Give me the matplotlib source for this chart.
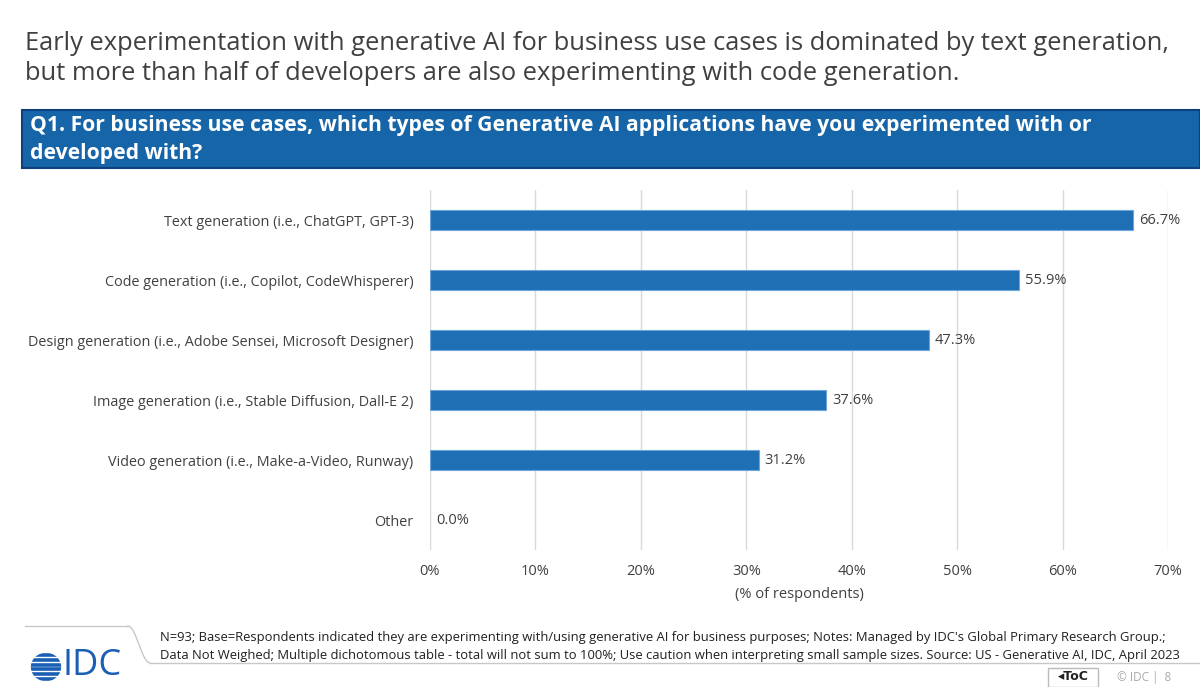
import numpy as np
import matplotlib.pyplot as plt
from matplotlib.patches import Rectangle, Circle

plt.rcParams['font.family'] = ['Open Sans', 'DejaVu Sans']

# Datos
categories = [
    "Text generation (i.e., ChatGPT, GPT-3)",
    "Code generation (i.e., Copilot, CodeWhisperer)",
    "Design generation (i.e., Adobe Sensei, Microsoft Designer)",
    "Image generation (i.e., Stable Diffusion, Dall-E 2)",
    "Video generation (i.e., Make-a-Video, Runway)",
    "Other",
]
values = [66.7, 55.9, 47.3, 37.6, 31.2, 0.0]
xticks = [0, 10, 20, 30, 40, 50, 60, 70]

txt = '#404040'
blue = '#1f6fb5'

fig = plt.figure(figsize=(12, 6.87), dpi=100)

# titulo
fig.text(25 / 1200, 1 - 43 / 687,
         "Early experimentation with generative AI for business use cases is dominated by text generation,",
         fontsize=18.4, color=txt, va='center', ha='left')
fig.text(25 / 1200, 1 - 74 / 687,
         "but more than half of developers are also experimenting with code generation.",
         fontsize=18.4, color=txt, va='center', ha='left')

# banda azul con la pregunta
fig.patches.append(Rectangle((22 / 1200, 1 - 168 / 687), 1 - 22 / 1200, 58 / 687,
                             transform=fig.transFigure, facecolor='#1565a8',
                             edgecolor='#0d3f7a', lw=1.5))
fig.text(30 / 1200, 1 - 126 / 687,
         "Q1. For business use cases, which types of Generative AI applications have you experimented with or",
         fontsize=15.2, color='white', weight='bold', va='center', ha='left')
fig.text(30 / 1200, 1 - 153 / 687, "developed with?",
         fontsize=15.2, color='white', weight='bold', va='center', ha='left')

ax = fig.add_axes([430 / 1200, 1 - 550 / 687, 738 / 1200, 360 / 687])
y = np.arange(len(categories))
ax.barh(y, values, height=0.34, color=blue, edgecolor='#6aa5dc',
        lw=[0.8 if v > 0 else 0 for v in values], zorder=3)
for yi, v in zip(y, values):
    ax.text(v + 0.55, yi, f"{v:.1f}%", va='center', ha='left', fontsize=10.5, color=txt)

ax.set_yticks(y)
ax.set_yticklabels(categories, fontsize=10.4, color=txt)
ax.set_ylim(len(categories) - 0.5, -0.5)
ax.set_xlim(0, 70)
ax.set_xticks(xticks)
ax.set_xticklabels([f"{t}%" for t in xticks], fontsize=10.5, color=txt)
ax.tick_params(axis='both', length=0)
ax.tick_params(axis='x', pad=10)
ax.tick_params(axis='y', pad=12)
ax.grid(axis='x', color='#d9d9d9', lw=1, zorder=0)
for s in ax.spines.values():
    s.set_visible(False)
ax.set_xlabel("(% of respondents)", fontsize=10.5, color=txt, labelpad=6)

# pie de pagina
fig.add_artist(plt.Line2D([25 / 1200, 128 / 1200], [1 - 626 / 687, 1 - 626 / 687],
                          transform=fig.transFigure, color='#c8c8c8', lw=1))
fig.add_artist(plt.Line2D([150 / 1200, 1200 / 1200], [1 - 663 / 687, 1 - 663 / 687],
                          transform=fig.transFigure, color='#c8c8c8', lw=1))
xs = np.linspace(128, 150, 20)
ys = 626 + (663 - 626) * (1 - np.cos(np.pi * (xs - 128) / 22)) / 2
fig.add_artist(plt.Line2D(xs / 1200, 1 - ys / 687, transform=fig.transFigure,
                          color='#c8c8c8', lw=1))

fig.text(160 / 1200, 1 - 637 / 687,
         "N=93; Base=Respondents indicated they are experimenting with/using generative AI for business purposes; Notes: Managed by IDC's Global Primary Research Group.;",
         fontsize=9.38, color='#202020', va='center', ha='left')
fig.text(160 / 1200, 1 - 655 / 687,
         "Data Not Weighed; Multiple dichotomous table - total will not sum to 100%; Use caution when interpreting small sample sizes. Source: US - Generative AI, IDC, April 2023",
         fontsize=9.38, color='#202020', va='center', ha='left')

# logo IDC
logo = fig.add_axes([30 / 1200, 1 - 682 / 687, 32 / 1200, 30 / 687])
logo.set_xlim(-1, 1)
logo.set_ylim(-1, 1)
logo.axis('off')
circ = Circle((0, 0), 0.95, transform=logo.transData)
for yy in np.linspace(-0.8, 0.8, 6):
    ln, = logo.plot([-1, 1], [yy, yy], color='#1a5fb4', lw=2.6, solid_capstyle='butt')
    ln.set_clip_path(circ)
fig.text(62 / 1200, 1 - 666 / 687, "IDC", fontsize=26, color='#1a5fb4',
         va='center', ha='left')

# boton ToC y numero de pagina
fig.patches.append(Rectangle((1048 / 1200, 0), 50 / 1200, 19 / 687,
                             transform=fig.transFigure, facecolor='white',
                             edgecolor='#bbbbbb', lw=1))
fig.text(1073 / 1200, 1 - 677 / 687, "◂ToC", fontsize=9, weight='bold', color='#202020',
         va='center', ha='center', family=['DejaVu Sans'])
fig.text(1117 / 1200, 1 - 677 / 687, "© IDC |  8", fontsize=8.5, color='#aaaaaa',
         va='center', ha='left')

fig.savefig("out.png", dpi=100)
